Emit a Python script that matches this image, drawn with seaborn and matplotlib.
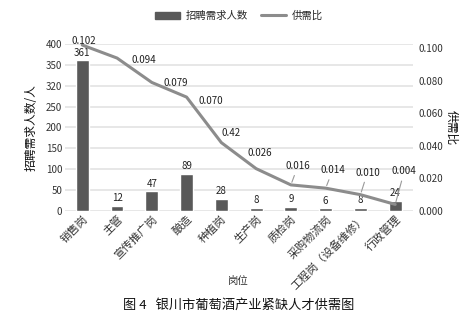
import numpy as np
import pandas as pd
import matplotlib
matplotlib.use("Agg")
import matplotlib.pyplot as plt
import seaborn as sns
from matplotlib.patches import Patch
from matplotlib.lines import Line2D

categories = ["销售岗", "主管", "宣传推广岗", "酿造", "种植岗", "生产岗", "质检岗",
              "采购物流岗", "工程岗（设备维修）", "行政管理"]
demand = [361, 12, 47, 89, 28, 8, 9, 6, 8, 24]
ratio = [0.102, 0.094, 0.079, 0.070, 0.042, 0.026, 0.016, 0.014, 0.010, 0.004]
ratio_labels = ["0.102", "0.094", "0.079", "0.070", "0.42", "0.026", "0.016", "0.014", "0.010", "0.004"]
left_ticks = [0, 50, 100, 150, 200, 250, 300, 350, 400]
left_tick_labels = ["0", "50", "100", "150", "200", "250", "320", "350", "400"]
right_ticks = [0.0, 0.02, 0.04, 0.06, 0.08, 0.10]

sns.set_theme(style="white")
plt.rcParams['font.family'] = ['Noto Sans CJK SC', 'DejaVu Sans']
plt.rcParams['axes.unicode_minus'] = False

df = pd.DataFrame({"cat": categories, "demand": demand, "ratio": ratio,
                   "pos": np.arange(len(categories))})

fig = plt.figure(figsize=(4.77, 3.24), dpi=100)
ax = fig.add_axes([0.136, 0.349, 0.729, 0.515])

bar_color = "#595959"
line_color = "#8c8c8c"

sns.barplot(data=df, x="cat", y="demand", color=bar_color, width=0.37,
            saturation=1, ax=ax, zorder=3)
ax.set_xlim(-0.5, len(categories) - 0.5)
ax.set_ylim(0, 400)
ax.set_yticks(left_ticks)
ax.set_yticklabels(left_tick_labels, fontsize=7, color="#333333")
ax.yaxis.grid(True, color="#e3e3e3", linewidth=1.2, zorder=0)
ax.set_axisbelow(True)
for s in ax.spines.values():
    s.set_visible(False)
ax.tick_params(axis="both", length=0, pad=2)
ax.set_xticks(range(len(categories)))
ax.set_xticklabels(categories, rotation=45, ha="right", rotation_mode="anchor",
                   fontsize=8, color="#333333")
ax.set_xlabel("岗位", fontsize=7.5, color="#333333")
ax.xaxis.set_label_coords(0.5, -0.39)
ax.set_ylabel("招聘需求人数/人", fontsize=8.5, color="#111111", labelpad=6)

for p, v in zip(ax.patches, demand):
    ax.annotate(str(v), (p.get_x() + p.get_width() / 2, p.get_height()),
                xytext=(0, 2), textcoords="offset points", ha="center", va="bottom",
                fontsize=7, color="#222222")

ax2 = ax.twinx()
sns.lineplot(data=df, x="pos", y="ratio", color=line_color, linewidth=2.2, ax=ax2, zorder=4)
ax2.set_ylim(0, 0.1026)
ax2.set_yticks(right_ticks)
ax2.set_yticklabels([f"{t:.3f}" for t in right_ticks], fontsize=7, color="#333333")
ax2.set_xlim(-0.5, len(categories) - 0.5)
for s in ax2.spines.values():
    s.set_visible(False)
ax2.tick_params(axis="both", length=0, pad=4)
ax2.set_ylabel("供需比", fontsize=8.5, color="#111111", rotation=270, labelpad=11)
ax2.set_xlabel("")

offsets = [(2, 4), (27, -2), (24, -1), (24, -4), (10, 10), (4, 16), (7, 19), (7, 18), (7, 22), (9, 33)]
leader = [False, False, False, False, False, False, True, True, True, True]
for i, (v, lab) in enumerate(zip(ratio, ratio_labels)):
    dx, dy = offsets[i]
    kw = {}
    if leader[i]:
        kw["arrowprops"] = dict(arrowstyle="-", color="#999999", lw=0.8, shrinkA=1, shrinkB=2)
    ax2.annotate(lab, (i, v), xytext=(dx, dy), textcoords="offset pixels",
                 ha="center", va="center", fontsize=7, color="#222222", **kw)

handles = [Patch(facecolor=bar_color, edgecolor=bar_color),
           Line2D([0], [0], color=line_color, linewidth=2.2)]
ax.legend(handles, ["招聘需求人数", "供需比"], loc="center", bbox_to_anchor=(0.5, 1.17),
          ncol=2, frameon=False, fontsize=7.5, handlelength=2.4, columnspacing=1.2,
          handletextpad=0.6)

fig.text(0.5, 0.058, "图 4   银川市葡萄酒产业紧缺人才供需图", ha="center", va="center",
         fontsize=9.5, color="#111111")

fig.savefig("out.png", dpi=100)
